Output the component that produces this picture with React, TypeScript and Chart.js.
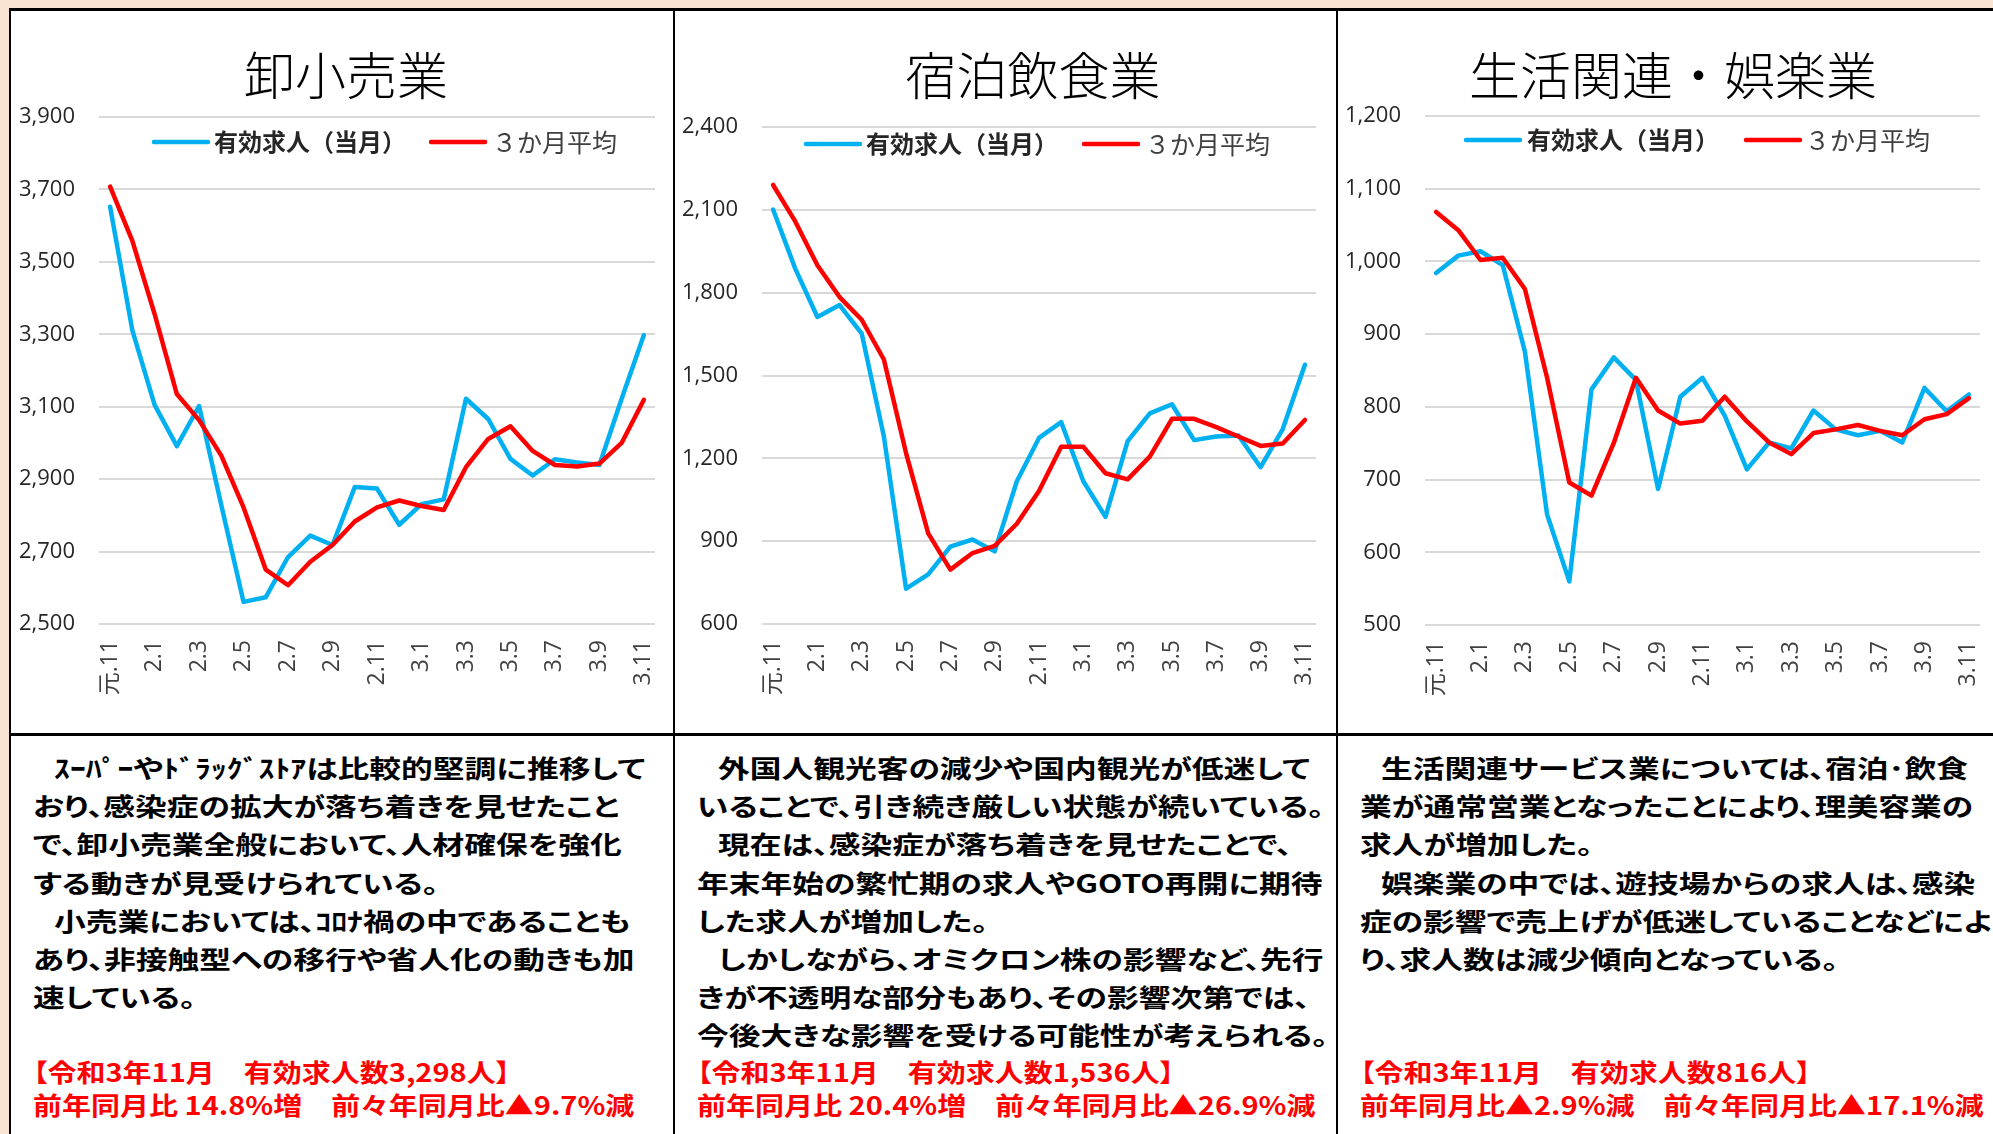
import React, { useEffect, useRef } from 'react';
import { Chart, registerables } from 'chart.js';

Chart.register(...registerables);

// ---------- data ----------
const months = ['元.11', '元.12', '2.1', '2.2', '2.3', '2.4', '2.5', '2.6', '2.7', '2.8', '2.9', '2.10', '2.11', '2.12', '3.1', '3.2', '3.3', '3.4', '3.5', '3.6', '3.7', '3.8', '3.9', '3.10', '3.11'];
const seriesNames = ['有効求人（当月）', '３か月平均'];

const wholesaleMonthly = [3652, 3311, 3105, 2991, 3102, 2828, 2561, 2574, 2685, 2744, 2718, 2878, 2874, 2774, 2831, 2844, 3122, 3066, 2956, 2910, 2955, 2946, 2939, 3122, 3298];
const wholesaleAvg = [3708, 3558, 3356, 3135, 3063, 2965, 2822, 2650, 2607, 2672, 2718, 2783, 2822, 2841, 2826, 2815, 2933, 3011, 3046, 2978, 2939, 2935, 2943, 3000, 3119];

const hotelMonthly = [2101, 1887, 1712, 1755, 1652, 1279, 728, 780, 880, 906, 863, 1117, 1274, 1331, 1117, 988, 1262, 1363, 1396, 1266, 1279, 1283, 1168, 1306, 1539];
const hotelAvg = [2190, 2058, 1899, 1784, 1702, 1558, 1219, 928, 797, 857, 883, 963, 1082, 1242, 1242, 1146, 1124, 1206, 1343, 1343, 1313, 1279, 1245, 1254, 1339];

const livingMonthly = [984, 1008, 1014, 995, 876, 652, 560, 824, 868, 837, 687, 814, 840, 788, 714, 751, 743, 795, 769, 761, 767, 751, 826, 794, 817];
const livingAvg = [1068, 1043, 1002, 1005, 962, 840, 696, 678, 750, 840, 795, 777, 781, 814, 780, 751, 735, 764, 769, 775, 767, 761, 783, 790, 812];

const titles = ['卸小売業', '宿泊飲食業', '生活関連・娯楽業'];

const text1 = [
  '　ｽｰﾊﾟｰやﾄﾞﾗｯｸﾞｽﾄｱは比較的堅調に推移して',
  'おり、感染症の拡大が落ち着きを見せたこと',
  'で、卸小売業全般において、人材確保を強化',
  'する動きが見受けられている。',
  '　小売業においては、ｺﾛﾅ禍の中であることも',
  'あり、非接触型への移行や省人化の動きも加',
  '速している。',
];
const red1 = ['【令和3年11月　有効求人数3,298人】', '前年同月比 14.8%増　前々年同月比▲9.7%減'];

const text2 = [
  '　外国人観光客の減少や国内観光が低迷して',
  'いることで、引き続き厳しい状態が続いている。',
  '　現在は、感染症が落ち着きを見せたことで、',
  '年末年始の繁忙期の求人やGOTO再開に期待',
  'した求人が増加した。',
  '　しかしながら、オミクロン株の影響など、先行',
  'きが不透明な部分もあり、その影響次第では、',
  '今後大きな影響を受ける可能性が考えられる。',
];
const red2 = ['【令和3年11月　有効求人数1,536人】', '前年同月比 20.4%増　前々年同月比▲26.9%減'];

const text3 = [
  '　生活関連サービス業については、宿泊･飲食',
  '業が通常営業となったことにより、理美容業の',
  '求人が増加した。',
  '　娯楽業の中では、遊技場からの求人は、感染',
  '症の影響で売上げが低迷していることなどによ',
  'り、求人数は減少傾向となっている。',
];
const red3 = ['【令和3年11月　有効求人数816人】', '前年同月比▲2.9%減　前々年同月比▲17.1%減'];

// ---------- styles ----------
const BLUE = '#00b0f0';
const RED = '#ff0000';
const CJK = '"Noto Sans CJK JP", sans-serif';
const Y_TICK_FONT = { family: '"Open Sans", "Noto Sans CJK JP", sans-serif', size: 22 };
const X_TICK_FONT = { family: '"Open Sans", "Noto Sans CJK JP", sans-serif', size: 23 };

const legendPlugin = {
  id: 'panelLegend',
  afterDraw(chart: any, _args: any, opts: any) {
    const ctx = chart.ctx;
    ctx.save();
    chart.data.datasets.forEach((ds: any, i: number) => {
      const item = opts.items[i];
      ctx.strokeStyle = ds.borderColor;
      ctx.lineWidth = 4.5;
      ctx.lineCap = 'round';
      ctx.beginPath();
      ctx.moveTo(item.lineX + 2, opts.y);
      ctx.lineTo(item.lineX + 56, opts.y);
      ctx.stroke();
      ctx.font = (i === 0 ? 'bold 24px ' : '25px ') + CJK;
      ctx.fillStyle = i === 0 ? '#262626' : '#404040';
      ctx.textBaseline = 'middle';
      ctx.textAlign = 'left';
      ctx.fillText(ds.label, item.textX, opts.y);
    });
    ctx.restore();
  },
};

type PanelProps = {
  left: number; top: number; width: number; height: number;
  area: { left: number; right: number; top: number; bottom: number };
  yMin: number; yMax: number; yStep: number;
  monthly: number[]; avg: number[];
  legend: { y: number; items: { lineX: number; textX: number }[] };
};

function LinePanel(p: PanelProps) {
  const ref = useRef<HTMLCanvasElement>(null);
  useEffect(() => {
    if (!ref.current) return;
    const chart = new Chart(ref.current, {
      type: 'line',
      data: {
        labels: months,
        datasets: [
          { label: seriesNames[0], data: p.monthly, borderColor: BLUE, backgroundColor: BLUE, borderWidth: 4.5, pointRadius: 0, tension: 0, borderJoinStyle: 'round', borderCapStyle: 'round', order: 2 },
          { label: seriesNames[1], data: p.avg, borderColor: RED, backgroundColor: RED, borderWidth: 4.5, pointRadius: 0, tension: 0, borderJoinStyle: 'round', borderCapStyle: 'round', order: 1 },
        ],
      },
      options: {
        responsive: false,
        maintainAspectRatio: false,
        animation: false,
        locale: 'en-US',
        layout: { padding: { left: 0, top: p.area.top, right: p.width - p.area.right, bottom: 0 } },
        plugins: {
          legend: { display: false },
          tooltip: { enabled: false },
          title: { display: false },
          panelLegend: p.legend,
        } as any,
        scales: {
          x: {
            offset: true,
            grid: { display: false, drawTicks: false },
            border: { display: false },
            ticks: {
              autoSkip: false,
              maxRotation: 90,
              minRotation: 90,
              padding: 16,
              color: '#404040',
              font: X_TICK_FONT,
              callback: (_v: any, i: number) => (i % 2 === 0 ? months[i] : ''),
            },
            afterFit: (s: any) => {
              s.height = p.height - p.area.bottom;
              s.paddingLeft = 0;
              s.paddingRight = 0;
            },
          },
          y: {
            min: p.yMin,
            max: p.yMax,
            ticks: { stepSize: p.yStep, padding: 24, color: '#262626', font: Y_TICK_FONT },
            grid: { color: '#d9d9d9', lineWidth: 2, drawTicks: false },
            border: { display: false },
            afterFit: (s: any) => {
              s.width = p.area.left;
              s.paddingTop = 0;
              s.paddingBottom = 0;
            },
          },
        },
      } as any,
      plugins: [legendPlugin],
    });
    return () => chart.destroy();
  }, []);
  return (
    <canvas
      ref={ref}
      width={p.width}
      height={p.height}
      style={{ position: 'absolute', left: p.left, top: p.top, width: p.width, height: p.height }}
    />
  );
}

const bodyStyle: React.CSSProperties = {
  position: 'absolute',
  font: `bold 25px ${CJK}`,
  lineHeight: '38px',
  whiteSpace: 'nowrap',
  transform: 'scaleX(1.27)',
  transformOrigin: '0 50%',
  fontFeatureSettings: '"palt"',
  color: '#000',
};

const BODY_Y = 768;
const BODY_STEP = 38.2;
const RED_Y = [1072, 1105];

function TextPanel({ x, lines, red }: { x: number; lines: string[]; red: string[] }) {
  return (
    <>
      {lines.map((t, k) => {
        const indent = t.startsWith('　');
        return (
          <div key={'b' + k} style={{ ...bodyStyle, left: x + (indent ? 21 : 0), top: BODY_Y + BODY_STEP * k - 20 }}>
            {indent ? t.slice(1) : t}
          </div>
        );
      })}
      {red.map((t, k) => (
        <div key={'r' + k} style={{ ...bodyStyle, color: RED, transform: 'scaleX(1.16)', left: x, top: RED_Y[k] - 20 }}>
          {t}
        </div>
      ))}
    </>
  );
}

function Title({ cx, text }: { cx: number; text: string }) {
  return (
    <div
      style={{
        position: 'absolute',
        left: cx - 300,
        width: 600,
        top: 43,
        textAlign: 'center',
        font: `300 51px ${CJK}`,
        lineHeight: '60px',
        color: '#000',
        whiteSpace: 'nowrap',
      }}
    >
      {text}
    </div>
  );
}

const line = (s: React.CSSProperties): React.CSSProperties => ({ position: 'absolute', background: '#000', ...s });

export default function App() {
  return (
    <div
      style={{
        position: 'absolute',
        left: 0,
        top: 0,
        width: 1993,
        height: 1134,
        overflow: 'hidden',
        background: '#fbe3d3',
      }}
    >
      <div style={{ position: 'absolute', left: 9, top: 8, width: 1993 - 9, height: 1134 - 8, background: '#fff' }} />

      <LinePanel
        left={11} top={10} width={662} height={723}
        area={{ left: 88, right: 644, top: 107, bottom: 614 }}
        yMin={2500} yMax={3900} yStep={200}
        monthly={wholesaleMonthly} avg={wholesaleAvg}
        legend={{ y: 132, items: [{ lineX: 141, textX: 203 }, { lineX: 418, textX: 481 }] }}
      />
      <LinePanel
        left={675} top={10} width={661} height={723}
        area={{ left: 87, right: 641, top: 117, bottom: 614 }}
        yMin={600} yMax={2400} yStep={300}
        monthly={hotelMonthly} avg={hotelAvg}
        legend={{ y: 134, items: [{ lineX: 129, textX: 191 }, { lineX: 407, textX: 470 }] }}
      />
      <LinePanel
        left={1338} top={10} width={655} height={723}
        area={{ left: 87, right: 642, top: 106, bottom: 615 }}
        yMin={500} yMax={1200} yStep={100}
        monthly={livingMonthly} avg={livingAvg}
        legend={{ y: 130, items: [{ lineX: 126, textX: 189 }, { lineX: 406, textX: 467 }] }}
      />

      <Title cx={346} text={titles[0]} />
      <Title cx={1033} text={titles[1]} />
      <Title cx={1673} text={titles[2]} />

      <TextPanel x={33} lines={text1} red={red1} />
      <TextPanel x={697} lines={text2} red={red2} />
      <TextPanel x={1360} lines={text3} red={red3} />

      <div style={line({ left: 9, top: 8, width: 1993 - 9, height: 2.5 })} />
      <div style={line({ left: 9, top: 8, width: 2, height: 1134 - 8 })} />
      <div style={line({ left: 673, top: 8, width: 2, height: 1134 - 8 })} />
      <div style={line({ left: 1336, top: 8, width: 2, height: 1134 - 8 })} />
      <div style={line({ left: 9, top: 733, width: 1993 - 9, height: 3 })} />
    </div>
  );
}
